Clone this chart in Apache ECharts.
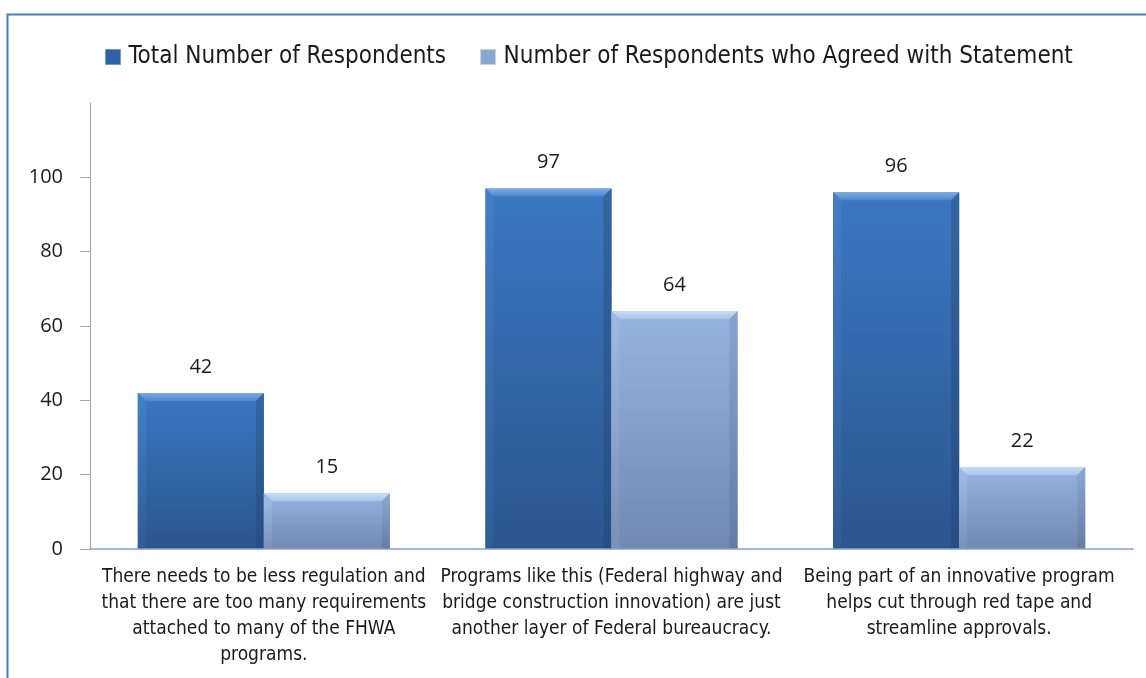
<!DOCTYPE html>
<html><head><meta charset="utf-8">
<script src="https://cdn.jsdelivr.net/npm/echarts@6/dist/echarts.min.js"></script>
<style>html,body{margin:0;padding:0;background:#fff}#c{width:1146px;height:678px}</style>
</head><body><div id="c"></div>
<script>
const categories = [
  "There needs to be less regulation and\nthat there are too many requirements\nattached to many of the FHWA\nprograms.",
  "Programs like this (Federal highway and\nbridge construction innovation) are just\nanother layer of Federal bureaucracy.",
  "Being part of an innovative program\nhelps cut through red tape and\nstreamline approvals."
];
const seriesNames = ["Total Number of Respondents", "Number of Respondents who Agreed with Statement"];
const totalRespondents = [42, 97, 96];
const agreedRespondents = [15, 64, 22];
const yTicks = [0, 20, 40, 60, 80, 100];

const condensed = '"Liberation Sans Narrow","DejaVu Sans Condensed","Roboto Condensed",Lato,sans-serif';
const numFont = '"Open Sans","Noto Sans",sans-serif';

const palettes = [
  {body: ['#3b78c2', '#2b568f'], top: ['#80acE2', '#4c86cd'], left: ['#427ec7', '#2f5c96'], right: ['#33659f', '#264e84']},
  {body: ['#95b4e0', '#7288b1'], top: ['#c9dcf5', '#a8c3ea'], left: ['#9cb9e3', '#7990b8'], right: ['#86a3cd', '#667ca5']}
];

function vgrad(c) {
  return new echarts.graphic.LinearGradient(0, 0, 0, 1, [{offset: 0, color: c[0]}, {offset: 1, color: c[1]}]);
}

function bevelRenderer(seriesIdx) {
  const p = palettes[seriesIdx];
  return function (params, api) {
    const cat = api.value(0), val = api.value(1);
    const base = api.coord([cat, 0]);
    const topPt = api.coord([cat, val]);
    const band = api.size([1, 0])[0];
    const bw = band * 0.3625;
    const x0 = base[0] + (seriesIdx === 0 ? -bw : 0);
    const x1 = x0 + bw;
    const y0 = topPt[1], y1 = base[1];
    const b = Math.min(8, (y1 - y0) / 2);
    return {
      type: 'group',
      children: [
        {type: 'rect', shape: {x: x0, y: y0, width: bw, height: y1 - y0}, style: {fill: vgrad(p.body)}},
        {type: 'polygon', shape: {points: [[x0, y0 + b], [x0 + b, y0 + b], [x0 + b, y1], [x0, y1]]}, style: {fill: vgrad(p.left)}},
        {type: 'polygon', shape: {points: [[x1, y0 + b], [x1, y1], [x1 - b, y1], [x1 - b, y0 + b]]}, style: {fill: vgrad(p.right)}},
        {type: 'polygon', shape: {points: [[x0, y0], [x1, y0], [x1 - b, y0 + b], [x0 + b, y0 + b]]}, style: {fill: vgrad(p.top)}},
        {type: 'polygon', shape: {points: [[x0, y0], [x0 + b, y0 + b], [x0, y0 + b]]}, style: {fill: p.left[0]}},
        {type: 'polygon', shape: {points: [[x1, y0], [x1, y0 + b], [x1 - b, y0 + b]]}, style: {fill: p.right[0]}},
        {type: 'text', x: (x0 + x1) / 2, y: y0 - 16,
          style: {text: String(val), align: 'center', verticalAlign: 'bottom', font: '20px ' + numFont, fill: '#1a1a1a'}}
      ]
    };
  };
}

function toPairs(arr) { return arr.map((v, i) => [i, v]); }

const chart = echarts.init(document.getElementById('c'), null, {renderer: 'canvas'});
chart.setOption({
  animation: false,
  backgroundColor: '#fff',
  graphic: [{
    type: 'rect', left: 5, top: 12, shape: {width: 1300, height: 1000},
    style: {fill: 'none', stroke: '#4a7ebb', lineWidth: 2}, z: 100
  }],
  legend: {
    top: 40, left: 100, itemGap: 34, itemWidth: 15, itemHeight: 15,
    icon: 'rect',
    textStyle: {fontFamily: condensed, fontSize: 24, color: '#1a1a1a', padding: [0, 0, 0, 3]},
    data: [
      {name: seriesNames[0], itemStyle: {color: '#2f63a6', borderColor: '#6f9ad4', borderWidth: 1}},
      {name: seriesNames[1], itemStyle: {color: '#8aa6cf', borderColor: '#c0d2ee', borderWidth: 1}}
    ]
  },
  grid: {left: 90, right: 13, top: 103, bottom: 129, containLabel: false},
  xAxis: {
    type: 'category', data: categories,
    z: 5,
    axisLine: {lineStyle: {color: '#87a3cb', width: 1.5}},
    axisTick: {show: false},
    axisLabel: {fontFamily: condensed, fontSize: 19, color: '#1a1a1a', lineHeight: 26, margin: 15, interval: 0}
  },
  yAxis: {
    type: 'value', min: 0, max: 120, interval: 20,
    splitLine: {show: false},
    axisLine: {show: true, lineStyle: {color: '#a6a6a6', width: 1}},
    axisTick: {show: true, length: 10, lineStyle: {color: '#a6a6a6'}, customValues: yTicks},
    axisLabel: {fontFamily: numFont, fontSize: 20, color: '#1a1a1a', margin: 27, customValues: yTicks}
  },
  series: [
    {name: seriesNames[0], type: 'custom', data: toPairs(totalRespondents), encode: {x: 0, y: 1},
      itemStyle: {color: '#2f63a6'}, renderItem: bevelRenderer(0), z: 2},
    {name: seriesNames[1], type: 'custom', data: toPairs(agreedRespondents), encode: {x: 0, y: 1},
      itemStyle: {color: '#8aa6cf'}, renderItem: bevelRenderer(1), z: 2}
  ]
});
</script></body></html>
